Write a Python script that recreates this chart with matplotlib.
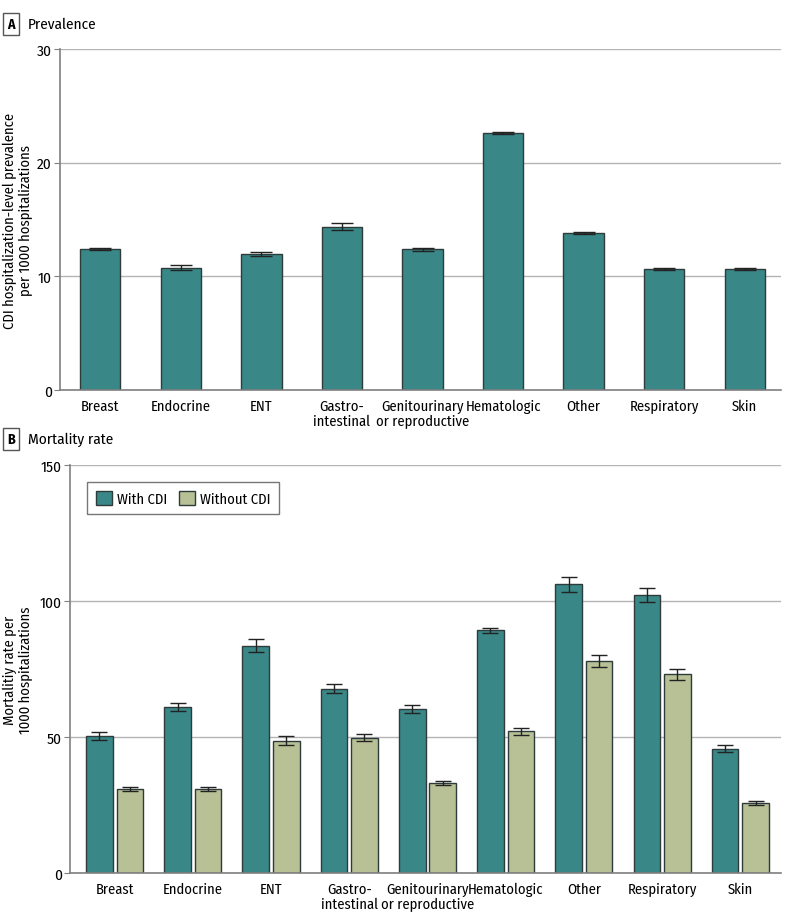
import matplotlib
matplotlib.use("Agg")
import matplotlib.pyplot as plt
import numpy as np
from matplotlib import font_manager

names = {f.name for f in font_manager.fontManager.ttflist}
pref = ['Fira Sans Condensed', 'Roboto Condensed', 'PT Sans Narrow', 'Roboto']
fam = [p for p in pref if p in names][:1] + ['DejaVu Sans']
plt.rcParams['font.family'] = fam

categories = ["Breast", "Endocrine", "ENT", "Gastro-\nintestinal", "Genitourinary\nor reproductive",
              "Hematologic", "Other", "Respiratory", "Skin"]
prevalence = [12.4, 10.76, 11.95, 14.36, 12.37, 22.6, 13.84, 10.67, 10.67]
prevalence_err = [0.1, 0.2, 0.15, 0.3, 0.1, 0.1, 0.1, 0.08, 0.08]
mort_with = [50.3, 61.0, 83.5, 67.8, 60.3, 89.2, 106.1, 102.2, 45.7]
mort_with_err = [1.4, 1.5, 2.4, 1.7, 1.5, 1.0, 2.9, 2.5, 1.2]
mort_without = [30.9, 30.9, 48.6, 49.7, 33.0, 52.1, 77.8, 73.0, 25.6]
mort_without_err = [0.6, 0.6, 1.6, 1.3, 0.8, 1.3, 2.2, 2.0, 0.7]

TEAL = "#3a8787"
KHAKI = "#b8c196"
EDGE = "#2e3b3b"
GRID = "#b4b4b4"
AX = "#808080"
FS = 10.5

fig = plt.figure(figsize=(7.85, 9.2), dpi=100)
W, H = 785, 920

def style(ax):
    for s in ['top', 'right']:
        ax.spines[s].set_visible(False)
    for s in ['left', 'bottom']:
        ax.spines[s].set_color(AX)
        ax.spines[s].set_linewidth(1.2)
    ax.yaxis.grid(True, color=GRID, linewidth=1.0)
    ax.set_axisbelow(True)
    ax.tick_params(axis='x', length=0, labelsize=FS, pad=6)
    ax.tick_params(axis='y', length=4, color=AX, labelsize=FS + 0.5, pad=2)
    for lab in ax.get_xticklabels():
        lab.set_linespacing(1.15)

def panel_label(y_px, letter, title):
    fig.text(11 / W, 1 - y_px / H, letter, fontsize=FS - 0.5, fontweight='bold', va='center', ha='center',
             bbox=dict(boxstyle='square,pad=0.3', fc='white', ec='#555555', lw=1.0))
    fig.text(28 / W, 1 - y_px / H, title, fontsize=FS + 0.5, va='center', ha='left')

x = np.arange(len(categories))

# Panel A
axA = fig.add_axes([60 / W, 1 - 391 / H, (781 - 60) / W, (391 - 50) / H])
axA.bar(x, prevalence, width=0.5, color=TEAL, edgecolor=EDGE, linewidth=1.0, zorder=2)
axA.errorbar(x, prevalence, yerr=prevalence_err, fmt='none', ecolor='#222222', elinewidth=1.0,
             capsize=8, capthick=1.0, zorder=3)
axA.set_ylim(0, 30)
axA.set_yticks([0, 10, 20, 30])
axA.set_xlim(-0.5, 8.45)
axA.set_xticks(x)
axA.set_xticklabels(categories)
axA.set_ylabel("CDI hospitalization-level prevalence\nper 1000 hospitalizations", fontsize=FS,
               linespacing=1.15)
axA.yaxis.set_label_coords(-27 / 721, 0.5)
style(axA)
panel_label(25, "A", "Prevalence")

# Panel B
axB = fig.add_axes([70 / W, 1 - 874 / H, (781 - 70) / W, (874 - 466) / H])
off = 0.195
w = 0.34
axB.bar(x - off, mort_with, width=w, color=TEAL, edgecolor=EDGE, linewidth=1.0, zorder=2, label="With CDI")
axB.bar(x + off, mort_without, width=w, color=KHAKI, edgecolor=EDGE, linewidth=1.0, zorder=2, label="Without CDI")
axB.errorbar(x - off, mort_with, yerr=mort_with_err, fmt='none', ecolor='#222222', elinewidth=1.0,
             capsize=6, capthick=1.0, zorder=3)
axB.errorbar(x + off, mort_without, yerr=mort_without_err, fmt='none', ecolor='#222222', elinewidth=1.0,
             capsize=6, capthick=1.0, zorder=3)
axB.set_ylim(0, 150)
axB.set_yticks([0, 50, 100, 150])
axB.set_xlim(-0.57, 8.52)
axB.set_xticks(x)
axB.set_xticklabels(categories)
axB.set_ylabel("Mortalitiy rate per\n1000 hospitalizations", fontsize=FS, linespacing=1.15)
axB.yaxis.set_label_coords(-37 / 711, 0.5)
style(axB)
leg = axB.legend(loc='upper left', bbox_to_anchor=(17 / 711, 1 - 17 / 408), ncol=2, frameon=True,
                 fancybox=False, edgecolor='#555555', fontsize=FS, handlelength=1.1, handleheight=1.1,
                 columnspacing=0.8, handletextpad=0.35, borderpad=0.6, borderaxespad=0)
leg.get_frame().set_linewidth(1.0)
panel_label(440, "B", "Mortality rate")

fig.savefig("out.png", dpi=100)
